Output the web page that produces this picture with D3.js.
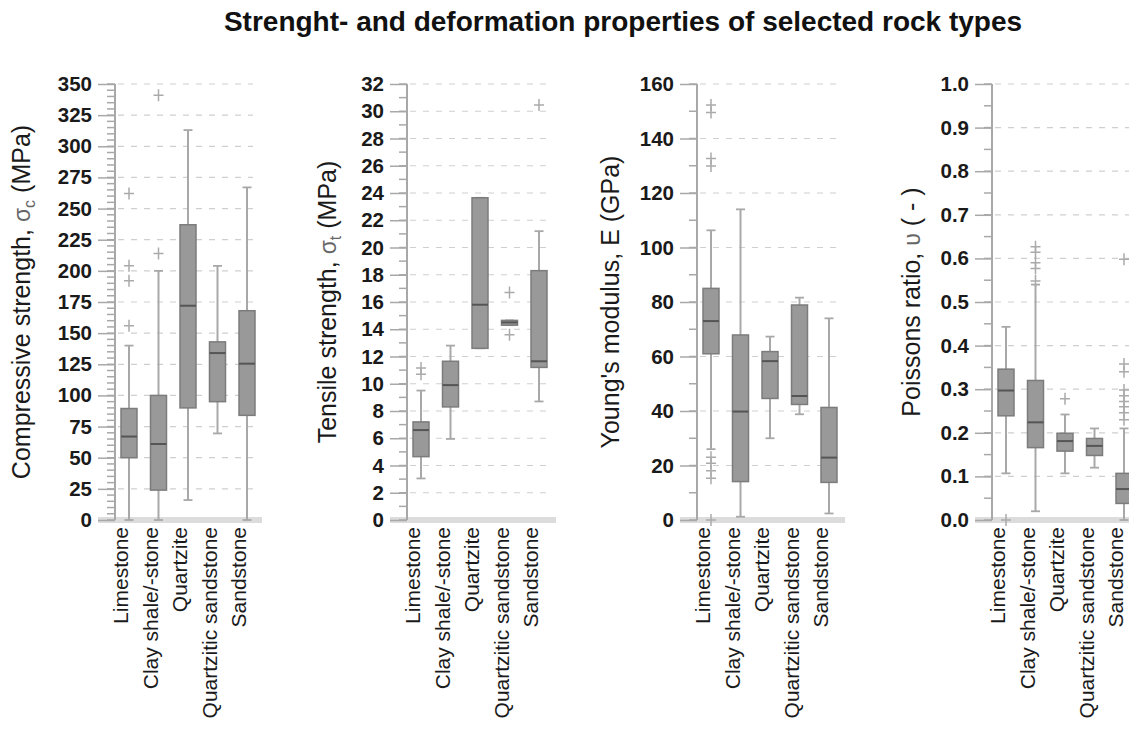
<!DOCTYPE html>
<html>
<head>
<meta charset="utf-8">
<script src="https://cdn.jsdelivr.net/npm/d3@7"></script>
<style>
  html, body { margin: 0; padding: 0; background: #fff; }
  svg { display: block; font-family: "Liberation Sans", Arial, Helvetica, sans-serif; }
</style>
</head>
<body>
<svg id="chart" width="1129" height="729"></svg>
<script>
// Rock types on every panel's x axis
const categories = ["Limestone", "Clay shale/-stone", "Quartzite", "Quartzitic sandstone", "Sandstone"];

// Box statistics per rock type: [whisker low, Q1, median, Q3, whisker high]
const ucsStats = [
  [0, 50, 67, 89.5, 140],
  [0, 24, 61, 100, 200],
  [16, 90, 172, 237, 313],
  [69.5, 95, 134, 143, 204],
  [0, 84, 125.5, 168, 267]
];
const ucsOutliers = [[262, 204, 192, 156], [341, 214], [], [], []];
const ucsTicks = [0, 25, 50, 75, 100, 125, 150, 175, 200, 225, 250, 275, 300, 325, 350];

const tensileStats = [
  [3.05, 4.65, 6.6, 7.2, 9.5],
  [5.95, 8.3, 9.9, 11.65, 12.8],
  [12.6, 12.6, 15.8, 23.65, 23.65],
  [14.3, 14.3, 14.5, 14.65, 14.65],
  [8.7, 11.2, 11.65, 18.3, 21.2]
];
const tensileOutliers = [[11.15, 10.7], [], [], [16.7, 13.6], [30.45]];
const tensileTicks = [0, 2, 4, 6, 8, 10, 12, 14, 16, 18, 20, 22, 24, 26, 28, 30, 32];

const youngStats = [
  [26, 61, 73, 85, 106.3],
  [1.2, 14.1, 39.8, 67.9, 114],
  [30, 44.6, 58.3, 61.8, 67.3],
  [38.8, 42.4, 45.5, 78.9, 81.6],
  [2.4, 13.8, 22.9, 41.3, 74]
];
const youngOutliers = [[152.3, 149.5, 132.7, 129.9, 23, 20.8, 18.1, 15.3, 0], [], [], [], []];
const youngTicks = [0, 20, 40, 60, 80, 100, 120, 140, 160];

const poissonStats = [
  [0.107, 0.239, 0.297, 0.346, 0.443],
  [0.02, 0.166, 0.224, 0.32, 0.54],
  [0.107, 0.158, 0.181, 0.199, 0.242],
  [0.12, 0.148, 0.17, 0.187, 0.21],
  [0, 0.038, 0.071, 0.107, 0.21]
];
const poissonOutliers = [[0], [0.627, 0.614, 0.59, 0.577, 0.548], [0.278], [], [0.598, 0.358, 0.34, 0.298, 0.285, 0.272, 0.26, 0.246, 0.23]];
const poissonTicks = [0, 0.1, 0.2, 0.3, 0.4, 0.5, 0.6, 0.7, 0.8, 0.9, 1.0];

const titleText = "Strenght- and deformation properties of selected rock types";

// Panel layout: axis x, label baseline x, right end of grid, minor tick step
const panels = [
  { stats: ucsStats, outliers: ucsOutliers, ticks: ucsTicks, minor: 5, fmt: d3.format("d"),
    axisX: 115, labelX: 30, gridEnd: 253, bandEnd: 262,
    label: ["Compressive strength, ", "σ", "c", " (MPa)"] },
  { stats: tensileStats, outliers: tensileOutliers, ticks: tensileTicks, minor: 1, fmt: d3.format("d"),
    axisX: 407, labelX: 336, gridEnd: 550, bandEnd: 556,
    label: ["Tensile strength, ", "σ", "t", " (MPa)"] },
  { stats: youngStats, outliers: youngOutliers, ticks: youngTicks, minor: 10, fmt: d3.format("d"),
    axisX: 697, labelX: 619, gridEnd: 838, bandEnd: 845,
    label: ["Young's modulus, E (GPa)"] },
  { stats: poissonStats, outliers: poissonOutliers, ticks: poissonTicks, minor: 0.05, fmt: d3.format(".1f"),
    axisX: 992, labelX: 920, gridEnd: 1129, bandEnd: 1129,
    label: ["Poissons ratio, ", "υ", "", " ( - )"] }
];

const svg = d3.select("#chart");
const plotTop = 84, plotBottom = 520;

svg.append("text")
  .attr("x", 623).attr("y", 31)
  .attr("text-anchor", "middle")
  .attr("font-size", 28).attr("font-weight", "bold")
  .attr("fill", "#111")
  .text(titleText);

panels.forEach(p => {
  const g = svg.append("g");
  const yMax = p.ticks[p.ticks.length - 1];
  const y = d3.scaleLinear().domain([0, yMax]).range([plotBottom, plotTop]);
  const x = d3.scalePoint().domain(categories).range([p.axisX + 14, p.axisX + 132]);

  // dashed horizontal grid
  g.selectAll("line.grid").data(p.ticks.filter(t => t > 0)).join("line")
    .attr("class", "grid")
    .attr("x1", p.axisX + 3).attr("x2", p.gridEnd)
    .attr("y1", d => y(d)).attr("y2", d => y(d))
    .attr("stroke", "#cfcfcf").attr("stroke-width", 1.2)
    .attr("stroke-dasharray", "6,7");

  // baseline band
  g.append("rect")
    .attr("x", p.axisX - 17).attr("y", y(0) - 3)
    .attr("width", p.bandEnd - (p.axisX - 17)).attr("height", 6)
    .attr("fill", "#dcdcdc");

  // minor ticks
  const nMinor = Math.round(yMax / p.minor);
  const minorVals = d3.range(0, nMinor + 1).map(i => i * p.minor);
  g.selectAll("line.minor").data(minorVals).join("line")
    .attr("class", "minor")
    .attr("x1", p.axisX - 8).attr("x2", p.axisX)
    .attr("y1", d => y(d)).attr("y2", d => y(d))
    .attr("stroke", "#a8a8a8").attr("stroke-width", 1.5);

  // y axis with long major ticks
  const axis = d3.axisLeft(y).tickValues(p.ticks).tickFormat(p.fmt).tickSize(17).tickPadding(6);
  const ag = g.append("g").attr("transform", `translate(${p.axisX},0)`).call(axis);
  ag.select(".domain").attr("d", `M0,${plotTop}V${plotBottom}`)
    .attr("stroke", "#a8a8a8").attr("stroke-width", 2);
  ag.selectAll(".tick line").attr("stroke", "#a8a8a8").attr("stroke-width", 1.5);
  ag.selectAll(".tick text")
    .attr("font-size", 20.5).attr("font-weight", "bold")
    .attr("font-family", "'Liberation Sans', Arial, sans-serif")
    .attr("fill", "#1a1a1a");

  // y axis title
  const lab = g.append("text")
    .attr("transform", `translate(${p.labelX},${(plotTop + plotBottom) / 2}) rotate(-90)`)
    .attr("text-anchor", "middle")
    .attr("font-size", 25).attr("fill", "#1a1a1a");
  if (p.label.length === 1) {
    lab.text(p.label[0]);
  } else {
    lab.append("tspan").text(p.label[0]);
    lab.append("tspan").text(p.label[1]).attr("fill", "#666").attr("font-size", 23);
    if (p.label[2]) lab.append("tspan").text(p.label[2]).attr("fill", "#666").attr("font-size", 16).attr("dy", 5);
    lab.append("tspan").text(p.label[3]).attr("dy", p.label[2] ? -5 : 0);
  }

  // category labels
  g.selectAll("text.cat").data(categories).join("text")
    .attr("class", "cat")
    .attr("transform", d => `translate(${x(d) - 1},${plotBottom + 7}) rotate(-90)`)
    .attr("text-anchor", "end")
    .attr("font-size", 21).attr("fill", "#1a1a1a")
    .text(d => d);

  const boxW = 16, capW = 9;
  const rows = categories.map((c, i) => ({ c, s: p.stats[i], o: p.outliers[i] }));
  const bg = g.selectAll("g.box").data(rows).join("g").attr("class", "box");

  // whiskers
  bg.append("line")
    .attr("x1", d => x(d.c)).attr("x2", d => x(d.c))
    .attr("y1", d => y(d.s[0])).attr("y2", d => y(d.s[1]))
    .attr("stroke", "#a8a8a8").attr("stroke-width", 2);
  bg.append("line")
    .attr("x1", d => x(d.c)).attr("x2", d => x(d.c))
    .attr("y1", d => y(d.s[3])).attr("y2", d => y(d.s[4]))
    .attr("stroke", "#a8a8a8").attr("stroke-width", 2);
  bg.selectAll("line.cap").data(d => [0, 4].map(k => ({ c: d.c, v: d.s[k] }))).join("line")
    .attr("class", "cap")
    .attr("x1", d => x(d.c) - capW / 2).attr("x2", d => x(d.c) + capW / 2)
    .attr("y1", d => y(d.v)).attr("y2", d => y(d.v))
    .attr("stroke", "#a8a8a8").attr("stroke-width", 1.8);

  // boxes
  bg.append("rect")
    .attr("x", d => x(d.c) - boxW / 2).attr("width", boxW)
    .attr("y", d => y(d.s[3])).attr("height", d => Math.max(2, y(d.s[1]) - y(d.s[3])))
    .attr("fill", "#999").attr("stroke", "#7c7c7c").attr("stroke-width", 1.5);
  bg.append("line")
    .attr("x1", d => x(d.c) - boxW / 2).attr("x2", d => x(d.c) + boxW / 2)
    .attr("y1", d => y(d.s[2])).attr("y2", d => y(d.s[2]))
    .attr("stroke", "#555").attr("stroke-width", 2);

  // outliers
  bg.selectAll("path.out").data(d => d.o.map(v => ({ c: d.c, v }))).join("path")
    .attr("class", "out")
    .attr("d", d => {
      const cx = x(d.c), cy = y(d.v);
      return `M${cx - 5},${cy}H${cx + 5}M${cx},${cy - 6}V${cy + 6}`;
    })
    .attr("stroke", "#aaa").attr("stroke-width", 1.5).attr("fill", "none");
});
</script>
</body>
</html>
